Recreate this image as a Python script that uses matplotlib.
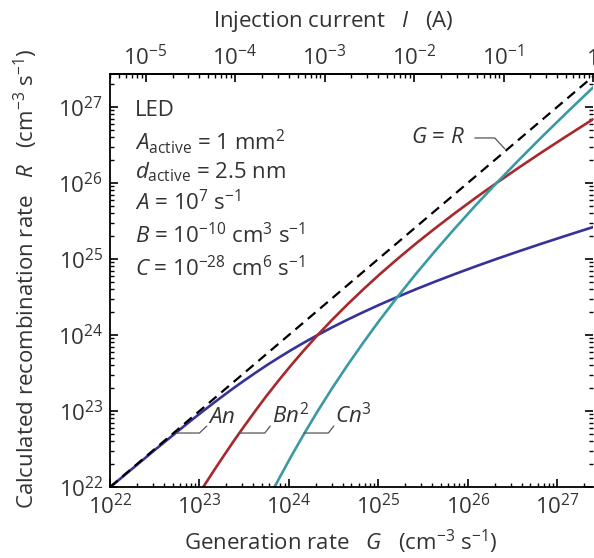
import numpy as np
import matplotlib
matplotlib.use("Agg")
import matplotlib.pyplot as plt
import matplotlib.ticker as mticker

plt.rcParams["font.family"] = ["Open Sans", "DejaVu Sans"]
plt.rcParams["mathtext.fontset"] = "custom"
plt.rcParams["mathtext.rm"] = "Open Sans"
plt.rcParams["mathtext.it"] = "Open Sans:italic"
plt.rcParams["mathtext.bf"] = "Open Sans:bold"

# values, as log10 exponents
g_exp = np.array([21.903, 22.207, 22.514, 22.827, 22.933, 23.042, 23.152, 23.265,
                  23.380, 23.500, 23.623, 23.750, 23.884, 24.023, 24.169, 24.322,
                  24.483, 24.653, 24.831, 25.017, 25.213, 25.417, 25.631, 25.853,
                  26.083, 26.322, 26.569, 26.823, 27.084, 27.350, 27.623])
an_exp = np.array([21.9, 22.2, 22.5, 22.8, 22.9, 23.0, 23.1, 23.2, 23.3, 23.4,
                   23.5, 23.6, 23.7, 23.8, 23.9, 24.0, 24.1, 24.2, 24.3, 24.4,
                   24.5, 24.6, 24.7, 24.8, 24.9, 25.0, 25.1, 25.2, 25.3, 25.4, 25.5])
bn2_exp = np.array([19.8, 20.4, 21.0, 21.6, 21.8, 22.0, 22.2, 22.4, 22.6, 22.8,
                    23.0, 23.2, 23.4, 23.6, 23.8, 24.0, 24.2, 24.4, 24.6, 24.8,
                    25.0, 25.2, 25.4, 25.6, 25.8, 26.0, 26.2, 26.4, 26.6, 26.8, 27.0])
cn3_exp = np.array([16.7, 17.6, 18.5, 19.4, 19.7, 20.0, 20.3, 20.6, 20.9, 21.2,
                    21.5, 21.8, 22.1, 22.4, 22.7, 23.0, 23.3, 23.6, 23.9, 24.2,
                    24.5, 24.8, 25.1, 25.4, 25.7, 26.0, 26.3, 26.6, 26.9, 27.2, 27.5])
g_line = [1e22, 2.5e27]

# conversion G -> I (q * A_active * d_active)
q = 1.6e-19
vol = 1e-2 * 2.5e-7
info_lines = ["LED",
              r"$A_{\rm active}$ = 1 mm$^2$",
              r"$d_{\rm active}$ = 2.5 nm",
              r"$A$ = 10$^7$ s$^{-1}$",
              r"$B$ = 10$^{-10}$ cm$^3$ s$^{-1}$",
              r"$C$ = 10$^{-28}$ cm$^6$ s$^{-1}$"]
info_y = [0.898, 0.818, 0.748, 0.671, 0.591, 0.511]
fs = 16
tc = "#333333"

fig = plt.figure(figsize=(5.94, 5.58), dpi=100)
ax = fig.add_axes([0.1852, 0.1272, 0.8131, 0.7402])

ax.plot(10**g_exp, 10**an_exp, color="#36329a", linewidth=1.9)
ax.plot(10**g_exp, 10**bn2_exp, color="#a8282c", linewidth=1.9)
ax.plot(10**g_exp, 10**cn3_exp, color="#3a9aa4", linewidth=1.9)
ax.plot(g_line, g_line, color="black", linewidth=1.6, linestyle=(0, (4.5, 2.8)), zorder=5)

ax.set_xscale("log")
ax.set_yscale("log")
ax.set_xlim(1e22, 2.5e27)
ax.set_ylim(1e22, 2.7e27)

for a in (ax.xaxis, ax.yaxis):
    a.set_major_locator(mticker.LogLocator(base=10, numticks=20))
    a.set_minor_locator(mticker.LogLocator(base=10, subs=np.arange(2, 10), numticks=20))
    a.set_minor_formatter(mticker.NullFormatter())

ax.tick_params(which="both", direction="in", right=True, top=False, labelsize=fs, labelcolor=tc)
ax.tick_params(which="major", length=6, width=1.2, pad=5)
ax.tick_params(which="minor", length=3, width=1.0)
for s in ax.spines.values():
    s.set_linewidth(1.3)
ax.spines["right"].set_visible(False)

secax = ax.secondary_xaxis("top", functions=(lambda g: g * q * vol, lambda i: i / (q * vol)))
secax.xaxis.set_major_locator(mticker.LogLocator(base=10, numticks=20))
secax.xaxis.set_minor_locator(mticker.LogLocator(base=10, subs=np.arange(2, 10), numticks=20))
secax.xaxis.set_minor_formatter(mticker.NullFormatter())
secax.xaxis.set_major_formatter(mticker.FuncFormatter(
    lambda v, p: "1" if abs(v - 1) < 1e-6 else r"$10^{%d}$" % round(np.log10(v))))
secax.tick_params(which="both", direction="in", labelsize=fs, labelcolor=tc)
secax.tick_params(which="major", length=6, width=1.2, pad=3)
secax.tick_params(which="minor", length=3, width=1.0)
secax.spines["top"].set_linewidth(1.3)

ax.set_xlabel(r"Generation rate   $G$   (cm$^{-3}$ s$^{-1}$)", fontsize=fs, color=tc)
ax.set_ylabel(r"Calculated recombination rate   $R$   (cm$^{-3}$ s$^{-1}$)", fontsize=fs, color=tc)
secax.set_xlabel(r"Injection current   $I$   (A)", fontsize=fs, color=tc)
ax.xaxis.set_label_coords(0.574, 0.054, transform=fig.transFigure)
ax.yaxis.set_label_coords(0.043, 0.50, transform=fig.transFigure)
ax.yaxis.label.set_va("center")
secax.xaxis.set_label_coords(0.561, 0.952, transform=fig.transFigure)

for txt, yy in zip(info_lines, info_y):
    ax.text(0.052, yy, txt, transform=ax.transAxes, fontsize=fs, color=tc, va="baseline")

# curve labels with leader lines
lead = dict(color="#555555", linewidth=0.9)
ax.plot(10**np.array([22.74, 23.00, 23.08]), 10**np.array([22.71, 22.71, 22.80]), **lead)
ax.text(10**23.10, 10**22.84, r"$An$", fontsize=fs, color=tc)
ax.plot(10**np.array([23.44, 23.73, 23.79]), 10**np.array([22.71, 22.71, 22.80]), **lead)
ax.text(10**23.81, 10**22.84, r"$Bn^2$", fontsize=fs, color=tc)
ax.plot(10**np.array([24.17, 24.44, 24.50]), 10**np.array([22.71, 22.71, 22.80]), **lead)
ax.text(10**24.52, 10**22.84, r"$Cn^3$", fontsize=fs, color=tc)
ax.plot(10**np.array([26.08, 26.30, 26.41]), 10**np.array([26.59, 26.59, 26.45]), **lead)
ax.text(10**25.36, 10**26.59, r"$G$ = $R$", fontsize=fs, color=tc, va="center")

fig.savefig("out.png", dpi=100)
